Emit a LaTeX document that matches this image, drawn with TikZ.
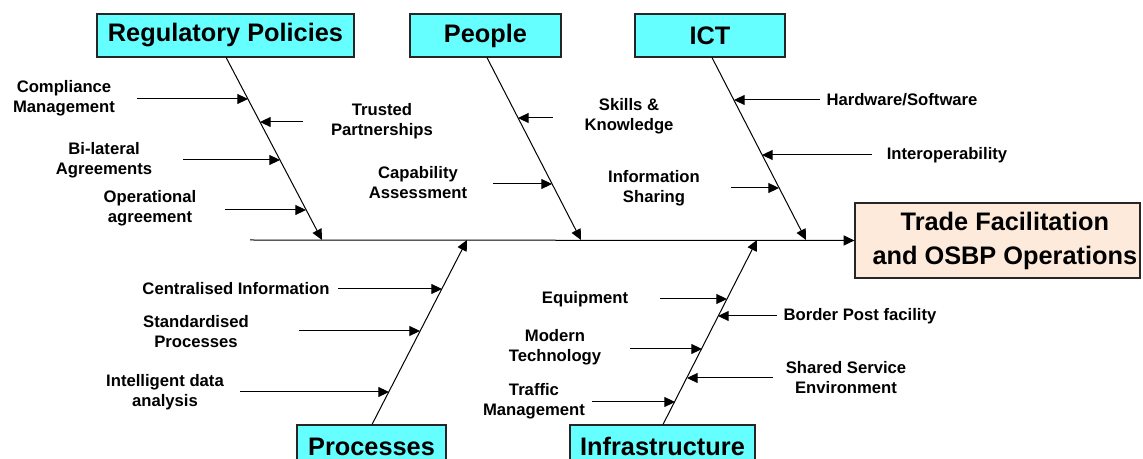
\documentclass[tikz,border=0pt]{standalone}
\usepackage{fontspec}
\setmainfont{Liberation Sans}
\usepackage{tikz}
\usetikzlibrary{arrows.meta, calc}
\definecolor{catcyan}{RGB}{102,255,255}
\definecolor{effpeach}{RGB}{253,234,218}
\tikzset{
    cat/.style = {draw=black!85, line width=0.9pt, fill=catcyan, inner sep=0pt,
        minimum height=32.25pt, font=\fontsize{19}{22}\selectfont\bfseries},
    effect/.style = {draw=black!85, line width=0.9pt, fill=effpeach, inner sep=0pt,
        minimum width=213.75pt, minimum height=56.25pt},
    efftext/.style = {inner sep=0pt, align=center, font=\fontsize{19}{25.5}\selectfont\bfseries},
    cause/.style = {inner sep=0pt, align=center, font=\fontsize{12.5}{15}\selectfont\bfseries},
    bone/.style = {line width=0.75pt, -{Triangle[length=8pt,width=7.5pt]}},
    twig/.style = {line width=0.75pt, -{Triangle[length=8pt,width=7.5pt]}},
}
\begin{document}
\begin{tikzpicture}[x=0.75pt, y=-0.75pt]
\clip (0,0) rectangle (1143,459);

% head and spine
\node[effect] (trade) at (997.5,240.5) {};
\node[efftext] (tradeText) at ([xshift=5.5pt]trade.center) {Trade Facilitation\\and OSBP Operations};
\coordinate (tail) at (250,240);
\draw[bone] (tail) -- (trade.west);

% category boxes
\node[cat, minimum width=192.75pt] (reg) at (225.5,35.5) {Regulatory Policies};
\node[cat, minimum width=113.25pt] (people) at (485.5,35.5) {People};
\node[cat, minimum width=112.5pt] (ict) at (710,35.5) {ICT};
\node[cat, minimum width=111.75pt] (proc) at (371.5,446.5) {Processes};
\node[cat, minimum width=138.75pt] (infra) at (662.5,446.5) {Infrastructure};

% bones onto the spine
\coordinate (regEnd) at (322,240);
\coordinate (peopleEnd) at (581,240);
\coordinate (ictEnd) at (806,240);
\coordinate (procEnd) at (467,240);
\coordinate (infraEnd) at (757,240);
\draw[bone] ([xshift=0.5pt]reg.south) -- (regEnd);
\draw[bone] ([xshift=1.1pt]people.south) -- (peopleEnd);
\draw[bone] ([xshift=1.5pt]ict.south) -- (ictEnd);
\draw[bone] ([xshift=0.4pt]proc.north) -- (procEnd);
\draw[bone] ([xshift=0.4pt]infra.north) -- (infraEnd);

% Regulatory Policies
\node[cause] (compl) at (64,98) {Compliance\\Management};
\coordinate (complT) at (137,99);
\draw[twig] (complT) -- (248,99);
\node[cause] (trust) at (382,121) {Trusted\\Partnerships};
\coordinate (trustT) at (303,122);
\draw[twig] (trustT) -- (260,122);
\node[cause] (bilat) at (104,160) {Bi-lateral\\Agreements};
\coordinate (bilatT) at (183,160);
\draw[twig] (bilatT) -- (280,160);
\node[cause] (oper) at (150,208) {Operational\\agreement};
\coordinate (operT) at (225,210);
\draw[twig] (operT) -- (306,210);

% People
\node[cause] (skills) at (629,116) {Skills \&\\Knowledge};
\coordinate (skillsT) at (553,118);
\draw[twig] (skillsT) -- (518,118);
\node[cause] (capab) at (418,183) {Capability\\Assessment};
\coordinate (capabT) at (493,184);
\draw[twig] (capabT) -- (552,184);

% ICT
\node[cause] (hwsw) at (902,100) {Hardware/Software};
\coordinate (hwswT) at (820,100);
\draw[twig] (hwswT) -- (734,100);
\node[cause] (inter) at (947,155) {Interoperability};
\coordinate (interT) at (872,155);
\draw[twig] (interT) -- (762,155);
\node[cause] (info) at (654,188) {Information\\Sharing};
\coordinate (infoT) at (731,188);
\draw[twig] (infoT) -- (779,188);

% Processes
\node[cause] (central) at (236,289) {Centralised Information};
\coordinate (centralT) at (338,289);
\draw[twig] (centralT) -- (442,289);
\node[cause] (stand) at (196,332) {Standardised\\Processes};
\coordinate (standT) at (299,331);
\draw[twig] (standT) -- (420,331);
\node[cause] (intel) at (165,392) {Intelligent data\\analysis};
\coordinate (intelT) at (240,392);
\draw[twig] (intelT) -- (389,392);

% Infrastructure
\node[cause] (equip) at (585,299) {Equipment};
\coordinate (equipT) at (660,299);
\draw[twig] (equipT) -- (727,299);
\node[cause] (border) at (860,316) {Border Post facility};
\coordinate (borderT) at (777,316);
\draw[twig] (borderT) -- (718,316);
\node[cause] (modern) at (555,347) {Modern\\Technology};
\coordinate (modernT) at (630,349);
\draw[twig] (modernT) -- (702,349);
\node[cause] (shared) at (846,378) {Shared Service\\Environment};
\coordinate (sharedT) at (773,378);
\draw[twig] (sharedT) -- (687,378);
\node[cause] (traffic) at (534,401) {Traffic\\Management};
\coordinate (trafficT) at (592,402);
\draw[twig] (trafficT) -- (675,402);
\end{tikzpicture}
\end{document}
